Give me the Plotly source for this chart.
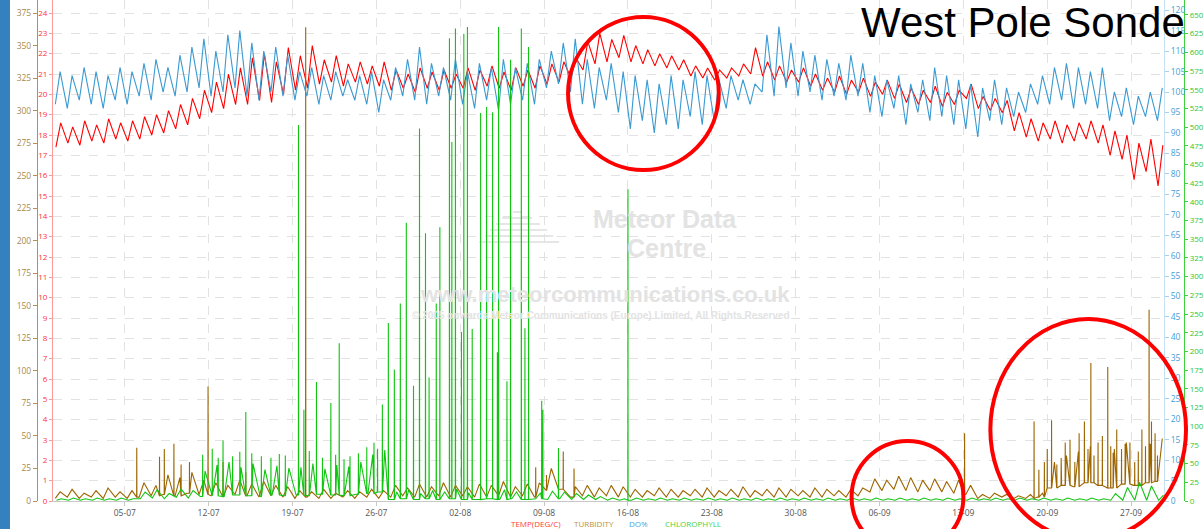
import pandas as pd
import plotly.graph_objects as go

START = "2020-06-29"          # day 0 of the record
X_END = "2020-09-29 18:00"
TICK0 = "2020-07-05"

# ---- daily lows / highs (day 0 = 29-06) ----
temp_lo = [17.4, 17.6, 17.5, 17.7, 17.6, 17.8, 17.7,
           17.8, 18.0, 18.1,
           18.3, 18.5, 18.8,
           19.1, 19.3, 19.5,
           19.5, 19.7, 19.6,
           20.0, 20.2, 20.3,
           20.5, 20.6, 20.4, 20.6, 20.5, 20.4,
           20.2, 20.3, 20.1, 20.3, 20.2, 20.3,
           20.3, 20.2, 20.4, 20.3, 20.2, 20.4, 20.3,
           20.5, 20.6, 20.8,
           21.2, 21.5, 21.6, 21.8,
           21.6, 21.5, 21.4, 21.3, 21.2,
           20.9, 20.8, 20.7, 20.8,
           20.9, 21.0, 20.9,
           20.7, 20.6, 20.6, 20.4,
           20.2, 20.1, 20.0, 20.1, 19.9, 20.0, 19.8,
           19.6, 19.5, 19.6, 19.4, 19.5,
           19.8,
           19.3, 19.2, 19.1,
           18.2, 17.9,
           17.7, 17.8, 17.6, 17.7, 17.8, 17.6,
           17.0, 16.8,
           15.8, 16.2, 15.5]
temp_hi = [18.6, 18.4, 18.7, 18.5, 18.8, 18.6, 18.7,
           18.9, 19.0, 19.2,
           19.5, 19.8, 20.2,
           20.6, 21.0, 21.3,
           21.8, 22.0, 21.6,
           22.3, 21.9, 22.4,
           21.7, 21.9, 21.5, 21.6, 21.4, 21.6,
           21.2, 21.0, 21.3, 21.1, 21.2, 21.0,
           21.3, 21.2, 21.4, 21.1, 21.3, 21.2, 21.4,
           21.5, 21.6, 21.8,
           22.6, 23.0, 22.7, 22.9,
           22.4, 22.2, 22.0, 21.9, 21.7,
           21.4, 21.3, 21.2, 21.3,
           21.5, 22.3, 21.6,
           21.4, 21.2, 21.3, 21.0,
           20.8, 20.9, 20.7, 20.8, 20.6, 20.7, 20.5,
           20.3, 20.2, 20.4, 20.1, 20.2,
           20.5,
           19.9, 19.8, 19.7,
           19.1, 18.8,
           18.6, 18.7, 18.5, 18.6, 18.7, 18.5,
           18.2, 18.0,
           17.6, 17.8, 17.5]

do_lo = [97, 96, 98, 97, 96, 98, 97,
         99, 98, 100, 99,
         100, 101, 99, 100, 101,
         99, 98, 100, 99,
         98, 99, 97, 98, 99, 98, 97, 95,
         98, 99, 98, 97, 99, 98,
         97, 96, 98, 95.5, 97, 98, 97,
         101, 102, 100,
         97, 96, 98, 95,
         91, 93, 90, 92, 91, 94, 92, 93, 96,
         98, 97,
         100, 99, 101, 99, 100, 98, 99, 98, 99,
         95, 94, 96, 92, 95, 93, 94, 92,
         91, 89, 93, 92, 94, 95, 97,
         97, 98, 96, 97, 96,
         93, 94, 92, 94, 93]
do_hi = [105, 104, 106, 105, 104, 106, 105,
         107, 108, 106, 109,
         111, 113, 110, 114, 115,
         112, 110, 111, 109,
         105, 106, 104, 105, 103, 104, 105, 103,
         106, 108, 111, 107, 106, 108,
         105, 107, 106, 108, 106, 107, 108,
         110, 112, 113,
         108, 106, 107, 105,
         104, 103, 102, 104, 103, 105, 104, 103, 104,
         103, 102,
         114, 116, 112, 110, 109, 108, 107, 109, 107,
         104, 103, 104, 102, 103, 106, 104, 103,
         102, 101, 103, 101, 100, 102, 104,
         106, 107, 106, 105, 106,
         100, 101, 99, 100, 101]

turb_lo = [2, 3, 2, 3, 2, 3, 2,
           3, 4,
           5, 4, 6, 5,
           4, 3, 5, 4, 3, 4, 3,
           2, 3, 2, 2, 3, 2, 3, 2,
           3, 4, 3, 3, 4, 3, 4, 3, 3, 4, 3, 4, 3,
           8, 9,
           3, 4, 3, 4, 3,
           3, 3, 4, 3, 3, 4, 3, 3, 4, 3, 3, 4, 3, 3, 4, 3, 3, 4, 3, 4,
           7, 8, 9, 8, 7, 8, 7, 6, 5,
           2, 2, 3, 2, 2, 3,
           10, 12, 11, 14, 12, 10, 13, 12, 14, 15]
turb_hi = [7, 9, 6, 8, 10, 7, 8,
           14, 12,
           20, 18, 22, 16,
           14, 12, 16, 13, 15, 12, 11,
           8, 7, 9, 6, 8, 7, 9, 8,
           12, 10, 13, 11, 14, 12, 11, 13, 12, 15, 11, 13, 14,
           25, 22,
           11, 12, 10, 12, 11,
           9, 8, 10, 9, 8, 9, 10, 8, 9, 11, 8, 9, 10, 9, 8, 10, 9, 8, 9, 10,
           17, 16, 19, 18, 16, 17, 15, 16, 12,
           5, 6, 5, 4, 5, 6,
           30, 35, 38, 42, 36, 40, 45, 38, 44, 48]
turb_spike_day = [7.0, 8.9, 9.3, 10.1, 10.7, 11.4, 12.95, 14.2, 16.1, 21.1, 40.3, 41.2,
                  42.6, 43.5, 76.1, 81.9, 82.3, 82.76, 83.0, 83.36, 83.8, 84.16, 84.5,
                  84.9, 85.3, 85.66, 86.1, 86.4, 86.64, 86.9, 87.24, 87.6, 88.05, 88.3,
                  88.5, 88.8, 89.2, 89.5, 89.9, 90.3, 90.6, 90.9, 91.2, 91.5, 91.7,
                  92.0, 92.2]
turb_spike_val = [41, 34, 40, 44, 28, 30, 88, 30, 22, 364, 26, 20,
                  38, 25, 52, 61, 24, 30, 40, 62, 28, 33, 45,
                  47, 30, 52, 61, 40, 106, 35, 45, 50, 103, 42,
                  37, 55, 40, 44, 45, 30, 38, 55, 42, 147, 61,
                  52, 35]

chl_lo = [1, 1, 1, 1, 1, 1, 1,
          3, 4, 3, 5, 4,
          6, 7, 6, 8, 7, 6, 8, 7,
          8, 7, 9, 8, 7, 9,
          10, 12,
          2, 3, 2, 3, 2, 3, 2, 2, 3, 2, 3, 2, 3, 2, 3, 2, 2, 2,
          1, 1, 1, 1, 1, 1, 1, 1, 1, 1, 1, 1, 1, 1, 1, 1, 1, 1, 1, 1, 1, 1, 1, 1,
          1, 1, 1, 1, 1, 1, 1, 1, 1, 1, 1, 1, 1, 1, 1, 1, 1, 1, 1, 1, 1, 1, 1]
chl_hi = [3, 4, 3, 4, 3, 4, 3,
          12, 15, 10, 16, 14,
          40, 48, 52, 45, 50, 42, 47, 44,
          45, 50, 43, 48, 46, 52,
          62, 68,
          12, 15, 10, 14, 12, 16, 11, 13, 10, 15, 12, 14, 11, 13, 12, 10, 8, 6,
          4, 3, 4, 3, 4, 3, 4, 3, 4, 3, 4, 3, 4, 3, 4, 3, 4, 3, 4, 3, 4, 3, 4, 3,
          4, 3, 4, 3, 4, 3, 4, 3, 4, 3, 4, 3, 4, 3, 4, 3, 4, 3, 10, 18, 25, 20, 8]
chl_spike_day = [12.5, 13.3, 13.8, 14.2, 15.0, 15.6, 16.1, 16.6, 17.4, 18.2, 18.9, 19.4,
                 20.5, 20.95, 21.4, 22.0, 22.5, 23.2, 23.6, 23.9, 24.3, 24.8, 25.5,
                 26.2, 26.8, 27.1, 27.5, 28.0, 28.5, 29.0,
                 29.5, 30.1, 30.6, 31.1, 31.4, 32.0, 32.3, 33.1, 33.3, 33.6, 34.1,
                 34.3, 34.6, 35.0, 35.7, 36.2, 36.7, 37.1, 37.2, 37.9, 38.2, 39.1,
                 39.4, 39.7, 40.8, 40.9, 42.2, 48.0]
chl_spike_val = [62, 70, 58, 81, 60, 66, 119, 64, 60, 58, 63, 61,
                 503, 122, 67, 159, 58, 131, 62, 211, 56, 60, 64,
                 72, 78, 70, 129, 238, 176, 264,
                 372, 154, 498, 358, 165, 264, 366, 619, 480, 632, 226,
                 625, 634, 230, 519, 527, 520, 199, 634, 160, 590, 632,
                 231, 607, 134, 122, 71, 417]

base = pd.Timestamp(START)


def series(lo, hi, f_lo, f_hi, sp_day=(), sp_val=()):
    pts = []
    for d in range(len(lo)):
        pts.append((d + f_lo, lo[d]))
        pts.append((d + f_hi, hi[d]))
    for d, v in zip(sp_day, sp_val):
        b = lo[min(int(d), len(lo) - 1)]
        pts += [(d - 0.01, b), (d, v), (d + 0.01, b)]
    pts.sort()
    t = [base + pd.Timedelta(days=p[0]) for p in pts]
    return t, [p[1] for p in pts]


W, H, B = 1204, 529, 28
PH = H - B


def px(x):
    return x / W


def py(y):
    return (PH - y) / PH


fig = go.Figure()
t, v = series(temp_lo, temp_hi, 0.25, 0.65)
fig.add_trace(go.Scatter(x=t, y=v, name="TEMP(DEG/C)", mode="lines",
                         line=dict(color="#ff0000", width=1.1), yaxis="y"))
t, v = series(turb_lo, turb_hi, 0.2, 0.6, turb_spike_day, turb_spike_val)
fig.add_trace(go.Scatter(x=t, y=v, name="TURBIDITY", mode="lines",
                         line=dict(color="#9c6500", width=1.1), yaxis="y2"))
t, v = series(do_lo, do_hi, 0.2, 0.6)
fig.add_trace(go.Scatter(x=t, y=v, name="DO%", mode="lines",
                         line=dict(color="#3a9ad2", width=1.1), yaxis="y3"))
t, v = series(chl_lo, chl_hi, 0.3, 0.7, chl_spike_day, chl_spike_val)
fig.add_trace(go.Scatter(x=t, y=v, name="CHLOROPHYLL", mode="lines",
                         line=dict(color="#11c411", width=1.1), yaxis="y4"))

FONT = "Open Sans"
grid = "#e2e2e2"
fig.update_layout(
    width=W, height=H, margin=dict(l=0, r=0, t=0, b=B),
    paper_bgcolor="white", plot_bgcolor="white", showlegend=False,
    xaxis=dict(domain=[px(53), px(1166)], type="date", range=[START, X_END],
               tick0=TICK0, dtick=7 * 86400000, tickformat="%d-%m",
               showgrid=True, gridcolor=grid, griddash="dash",
               showline=True, linecolor="#c8c8c8", ticks="outside", ticklen=4,
               tickcolor="#c8c8c8", zeroline=False,
               tickfont=dict(family=FONT, size=8.5, color="#555555")),
    yaxis=dict(range=[0, 24.64], tick0=0, dtick=1, side="left", anchor="x",
               showline=True, linecolor="#ff9a9a", ticks="outside", ticklen=3,
               tickcolor="#ff9a9a", showgrid=True, gridcolor=grid, griddash="dash",
               zeroline=False, tickfont=dict(family=FONT, size=8, color="#ff3030")),
    yaxis2=dict(overlaying="y", side="left", anchor="free", position=px(37),
                range=[0, 385], tick0=0, dtick=25, showline=True,
                linecolor="#b8904a", ticks="outside", ticklen=4, tickcolor="#b8904a",
                showgrid=False, zeroline=False,
                tickfont=dict(family=FONT, size=8.5, color="#a88a50")),
    yaxis3=dict(overlaying="y", side="right", anchor="x", range=[0, 122.5],
                tick0=0, dtick=5, showline=True, linecolor="#c4e0f2",
                ticks="outside", ticklen=4, tickcolor="#a8d0ec", showgrid=False,
                zeroline=False, tickfont=dict(family=FONT, size=8.5, color="#3f9fd8")),
    yaxis4=dict(overlaying="y", side="right", anchor="free", position=px(1186),
                range=[0, 670], tick0=0, dtick=25, showline=True,
                linecolor="#3fd03f", ticks="outside", ticklen=3, tickcolor="#3fd03f",
                showgrid=False, zeroline=False,
                tickfont=dict(family=FONT, size=8, color="#2fc52f")),
)

# ---- watermark, title, legend text ----
wm = "#e3e3e3"
ann = [
    dict(text="Meteor Data", x=px(666), y=py(219), font=dict(family="Liberation Sans", size=25, color=wm)),
    dict(text="Centre", x=px(668), y=py(248), font=dict(family="Liberation Sans", size=25, color=wm)),
    dict(text="www.meteorcommunications.co.uk", x=px(606), y=py(294),
         font=dict(family="Liberation Sans", size=22, color=wm)),
    dict(text="© 2005 onwards Meteor Communications (Europe) Limited, All Rights Reserved",
         x=px(602), y=py(315), font=dict(family="Liberation Sans", size=10, color=wm)),
]
for a in ann:
    a["text"] = "<b>" + a["text"] + "</b>"
    fig.add_annotation(xref="paper", yref="paper", showarrow=False,
                       xanchor="center", yanchor="middle", **a)

fig.add_annotation(text="West Pole Sonde", xref="paper", yref="paper", x=px(860), y=py(23),
                   xanchor="left", yanchor="middle", showarrow=False,
                   font=dict(family="Liberation Sans", size=42, color="black"))

legend_items = [("TEMP(DEG/C)", "#ff3b3b", 537), ("TURBIDITY", "#c29236", 595),
                ("DO%", "#45a6e0", 640), ("CHLOROPHYLL", "#3fd33f", 694)]
for name, col, cx in legend_items:
    fig.add_annotation(text=name, xref="paper", yref="paper", x=px(cx), y=py(523.5),
                       xanchor="center", yanchor="middle", showarrow=False,
                       font=dict(family=FONT, size=8, color=col))

# ---- decorative shapes ----
shapes = [dict(type="rect", xref="paper", yref="paper", x0=0, x1=px(10), y0=py(H), y1=py(0),
               fillcolor="#3581bd", line=dict(width=0), layer="above")]
logo = [(212, 514, 522), (218, 503, 533), (224, 497, 541), (230, 491, 548),
        (236, 486, 554), (242, 480, 560)]
for yy, xa, xb in logo:
    shapes.append(dict(type="line", xref="paper", yref="paper", x0=px(xa), x1=px(xb),
                       y0=py(yy), y1=py(yy), line=dict(color="#e6e6e6", width=2), layer="below"))
circles = [(569, 720, 17, 170), (853, 965, 441, 553), (992, 1188, 319, 540)]
for x0, x1, y0, y1 in circles:
    shapes.append(dict(type="circle", xref="paper", yref="paper", x0=px(x0), x1=px(x1),
                       y0=py(y1), y1=py(y0), line=dict(color="#ff0000", width=4),
                       layer="above"))
fig.update_layout(shapes=shapes)

fig.write_html("out.html", config={"displayModeBar": False},
               post_script="document.body.style.margin='0';"
                           "document.body.style.overflow='hidden';")
